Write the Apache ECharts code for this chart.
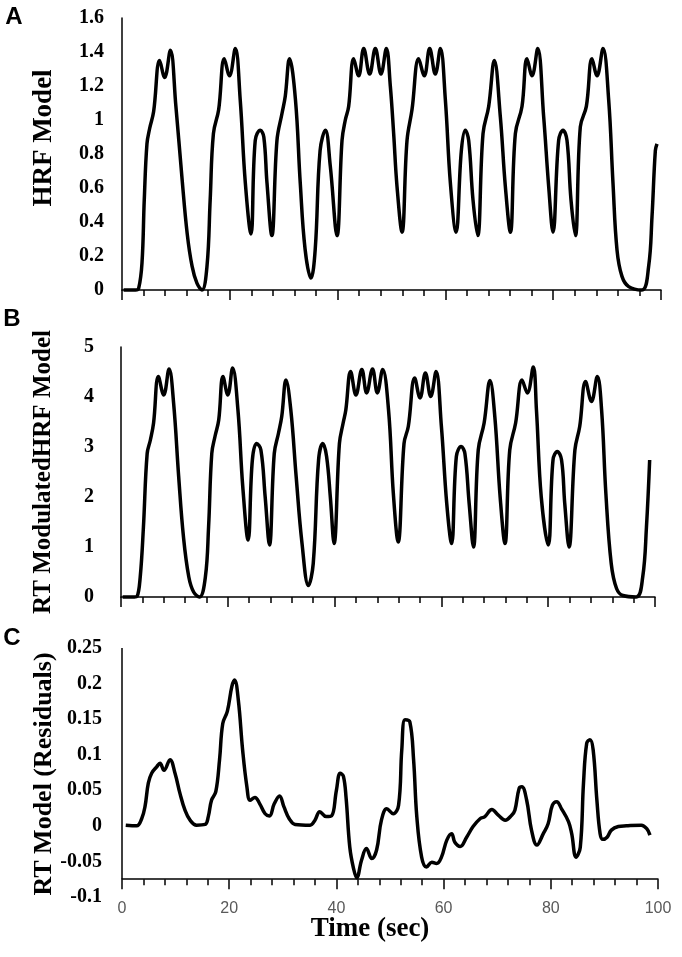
<!DOCTYPE html>
<html>
<head>
<meta charset="utf-8">
<script src="https://cdn.jsdelivr.net/npm/echarts@6/dist/echarts.min.js"></script>
<style>
html,body{margin:0;padding:0;background:#fff;}
#chart{width:682px;height:957px;}
</style>
</head>
<body>
<div id="chart"></div>
<script>
// ---- Panel A: HRF Model ----
const timeA = [0.3,1.5,2.5,3.09,3.71,4.13,4.63,5.13,5.87,6.98,7.91,8.97,10.0,11.1,12.1,13.0,13.9,14.83,
  15.77,16.36,16.96,17.93,18.98,19.94,21.02,21.93,22.88,23.92,24.72,25.66,26.31,26.9,27.8,28.75,29.69,30.29,
  31.08,32.18,33.07,33.97,35.06,35.85,36.75,37.74,38.64,39.89,40.82,41.43,42.05,42.98,43.91,44.84,45.95,47.0,
  48.05,49.04,49.78,50.4,51.02,51.95,52.88,53.8,55.04,56.09,57.08,58.13,59.06,59.99,60.92,61.97,62.96,63.7,
  64.32,65.12,65.99,66.98,68.03,69.08,70.19,71.12,72.05,72.98,74.21,75.14,76.07,77.12,78.23,79.16,79.96,81.01,
  81.82,82.56,83.3,84.11,85.03,86.15,87.2,88.13,89.24,90.29,91.09,91.84,92.76,94.0,96.47,97.71,98.33,98.95,99.26];
const hrfA = [0,0,0,0.01,0.16,0.53,0.86,0.95,1.05,1.35,1.25,1.41,1.08,0.67,0.33,0.14,0.04,0,
  0.14,0.53,0.92,1.06,1.36,1.26,1.42,1.12,0.63,0.33,0.88,0.94,0.9,0.63,0.32,0.88,1.04,1.14,
  1.36,1.12,0.63,0.24,0.07,0.24,0.82,0.94,0.73,0.32,0.88,1.0,1.08,1.36,1.26,1.42,1.27,1.42,
  1.27,1.42,1.2,0.92,0.61,0.34,0.88,1.06,1.36,1.26,1.42,1.27,1.42,1.12,0.63,0.34,0.82,0.94,
  0.88,0.53,0.32,0.92,1.08,1.35,1.02,0.61,0.34,0.92,1.08,1.36,1.26,1.42,1.02,0.61,0.34,0.88,
  0.94,0.88,0.53,0.32,0.96,1.08,1.36,1.26,1.42,1.12,0.63,0.235,0.08,0.02,0,0.14,0.43,0.82,0.86];

// ---- Panel B: RT Modulated HRF Model ----
const timeB = [0.3,1.5,2.5,3.0,3.6,4.2,4.9,5.5,6.1,7.0,8.0,9.0,9.85,10.8,11.7,12.7,13.6,14.7,
  15.8,16.4,17.0,17.6,18.3,19.1,20.0,20.9,21.9,22.8,23.8,24.6,25.4,26.2,27.0,27.8,28.7,29.5,30.1,30.9,
  31.8,32.8,33.9,35.1,36.0,37.0,37.8,38.5,39.2,39.9,40.9,41.6,42.1,43.0,44.0,45.1,46.0,47.1,48.0,49.0,
  50.1,51.0,51.9,53.0,53.8,55.0,56.0,57.0,58.0,59.0,60.0,61.0,61.9,62.8,63.7,64.4,65.2,66.0,66.9,68.0,
  69.1,70.0,71.0,71.9,72.8,73.9,75.1,76.1,77.2,77.8,78.7,80.0,80.9,81.7,82.5,83.1,83.9,85.0,85.9,87.0,
  88.1,89.2,90.0,90.8,91.8,92.8,94.0,96.5,97.7,98.4,99.0];
const rtHrfB = [0,0,0,0.01,0.40,1.40,2.87,3.14,3.48,4.41,4.04,4.56,3.88,2.41,1.2,0.40,0.10,0,
  0.40,1.40,2.87,3.21,3.54,4.41,4.04,4.58,3.74,2.21,1.14,2.74,3.07,2.94,2.0,1.04,2.87,3.28,3.61,4.34,
  3.74,2.41,1.07,0.23,0.67,2.74,3.07,2.81,2.0,1.07,3.07,3.48,3.74,4.51,4.04,4.55,4.08,4.56,4.08,4.55,
  3.74,2.07,1.10,3.07,3.41,4.38,3.98,4.48,4.01,4.51,3.41,1.87,1.07,2.81,3.01,2.87,1.87,1.0,2.94,3.48,
  4.33,3.61,2.0,1.07,2.94,3.48,4.34,4.08,4.60,3.74,2.0,1.04,2.74,2.91,2.74,1.87,1.0,2.94,3.41,4.31,
  3.91,4.41,3.74,2.07,0.67,0.17,0.03,0,0.40,1.40,2.74];

// ---- Panel C: RT Model (Residuals) ----
const timeC = [0.7,2.74,3.67,4.29,4.91,5.53,6.47,7.09,7.84,8.96,9.89,10.8,11.75,12.7,13.9,15.5,16.1,16.7,
  17.5,18.2,18.8,19.65,20.5,21.0,21.7,22.5,23.3,23.9,24.8,25.7,26.7,27.5,28.4,29.4,30.2,31.2,32.3,35.1,
  36.0,36.9,38.1,39.1,40.0,40.7,41.3,41.8,42.5,43.2,43.8,44.7,45.6,46.6,47.5,48.4,49.4,50.6,51.6,52.2,
  52.8,53.7,54.4,55.0,55.9,56.8,57.8,58.7,59.6,60.6,61.5,62.1,63.1,64.3,65.5,66.8,67.7,69.0,70.2,71.5,
  72.7,73.3,74.1,74.6,75.5,76.4,77.4,78.6,79.5,80.3,81.1,82.0,83.3,83.9,84.7,85.5,86.1,86.7,87.3,87.9,
  88.6,89.2,89.7,90.5,91.3,92.6,94.1,96.9,97.9,98.5];
const residC = [0.001,0,0.010,0.027,0.060,0.074,0.083,0.088,0.078,0.093,0.074,0.046,0.022,0.008,0.001,0.002,0.013,0.036,
  0.048,0.093,0.144,0.161,0.196,0.205,0.177,0.107,0.055,0.036,0.040,0.031,0.017,0.014,0.031,0.042,0.027,0.010,0.002,0.001,
  0.008,0.020,0.013,0.014,0.050,0.074,0.070,0.040,-0.030,-0.060,-0.073,-0.048,-0.032,-0.046,-0.034,0.008,0.024,0.017,0.029,0.107,
  0.149,0.146,0.093,0.013,-0.044,-0.058,-0.051,-0.053,-0.044,-0.020,-0.011,-0.023,-0.029,-0.016,-0.001,0.010,0.013,0.023,0.015,0.008,
  0.015,0.022,0.053,0.055,0.036,-0.006,-0.027,-0.011,0.003,0.029,0.034,0.024,0.006,-0.011,-0.044,-0.030,0.060,0.116,0.121,0.107,
  0.036,-0.011,-0.019,-0.016,-0.006,-0.001,0,0.001,-0.004,-0.013];

// tick settings
const timeTicks = {min: 0, max: 100, interval: 20};
const yTicksA = {min: 0, max: 1.6, interval: 0.2};
const yTicksB = {min: 0, max: 5, interval: 1};
const yTicksC = {min: -0.1, max: 0.25, interval: 0.05};
const xAxisCrossC = -0.075;

const pairs = (t, v) => t.map((x, i) => [x, v[i]]);

const serifBold = {fontFamily: 'Liberation Serif', fontWeight: 'bold', color: '#000'};
const axisLineStyle = {color: '#000', width: 1.5};

function makeX(grid, showLabels) {
  return {
    type: 'value', gridIndex: grid, min: timeTicks.min, max: timeTicks.max, interval: timeTicks.interval,
    axisLine: {show: true, onZero: true, lineStyle: axisLineStyle},
    axisTick: {show: true, length: 10, lineStyle: axisLineStyle},
    minorTick: {show: true, splitNumber: 5, length: 6, lineStyle: axisLineStyle},
    splitLine: {show: false}, minorSplitLine: {show: false},
    axisLabel: {show: showLabels, color: '#595959', fontFamily: 'Liberation Sans', fontSize: 16, margin: 4}
  };
}
function makeY(grid, t, margin, showLine) {
  return {
    type: 'value', gridIndex: grid, min: t.min, max: t.max, interval: t.interval,
    axisLine: {show: showLine, lineStyle: axisLineStyle},
    axisTick: {show: false}, splitLine: {show: false},
    axisLabel: Object.assign({fontSize: 20, margin: margin}, serifBold)
  };
}

const xC = makeX(2, true);
xC.axisLine.onZeroAxisIndex = 3;

const lineStyle = {color: '#000', width: 3.5};
const textStyle = (txt, font) => ({text: txt, font: font, fill: '#000', textAlign: 'center', textVerticalAlign: 'middle', align: 'center', verticalAlign: 'middle'});

const chart = echarts.init(document.getElementById('chart'), null, {renderer: 'canvas'});
chart.setOption({
  animation: false,
  backgroundColor: '#fff',
  grid: [
    {left: 122, right: 21, top: 18, height: 272},
    {left: 121, right: 27, top: 347, height: 250},
    {left: 122, right: 24, top: 648, height: 249}
  ],
  xAxis: [makeX(0, false), makeX(1, false), xC],
  yAxis: [
    makeY(0, yTicksA, 18, true),
    makeY(1, yTicksB, 27, true),
    makeY(2, yTicksC, 20, false),
    // hidden helper axis whose zero sits at -0.075 of the visible axis (where the time axis crosses)
    {type: 'value', gridIndex: 2, show: false, min: yTicksC.min - xAxisCrossC, max: yTicksC.max - xAxisCrossC, splitLine: {show: false}}
  ],
  series: [
    {type: 'line', xAxisIndex: 0, yAxisIndex: 0, data: pairs(timeA, hrfA), showSymbol: false, smooth: 0.4, clip: false, lineStyle: lineStyle},
    {type: 'line', xAxisIndex: 1, yAxisIndex: 1, data: pairs(timeB, rtHrfB), showSymbol: false, smooth: 0.4, clip: false, lineStyle: lineStyle},
    {type: 'line', xAxisIndex: 2, yAxisIndex: 2, data: pairs(timeC, residC), showSymbol: false, smooth: 0.4, clip: false, lineStyle: lineStyle,
      markLine: {silent: true, symbol: ['none', 'none'], label: {show: false}, lineStyle: {color: '#000', width: 1.5, type: 'solid'},
        emphasis: {disabled: true},
        data: [[{coord: [0, xAxisCrossC]}, {coord: [0, yTicksC.max]}]]}}
  ],
  graphic: [
    {type: 'text', x: 14, y: 17, style: textStyle('A', 'bold 24px "Liberation Sans"')},
    {type: 'text', x: 12, y: 319, style: textStyle('B', 'bold 24px "Liberation Sans"')},
    {type: 'text', x: 12, y: 638, style: textStyle('C', 'bold 24px "Liberation Sans"')},
    {type: 'text', x: 44, y: 138, rotation: Math.PI / 2, style: textStyle('HRF Model', 'bold 27px "Liberation Serif"')},
    {type: 'text', x: 44, y: 472, rotation: Math.PI / 2, style: textStyle('RT ModulatedHRF Model', 'bold 25px "Liberation Serif"')},
    {type: 'text', x: 44, y: 774, rotation: Math.PI / 2, style: textStyle('RT Model (Residuals)', 'bold 26px "Liberation Serif"')},
    {type: 'text', x: 370, y: 929, style: textStyle('Time (sec)', 'bold 27px "Liberation Serif"')}
  ]
});
</script>
</body>
</html>
